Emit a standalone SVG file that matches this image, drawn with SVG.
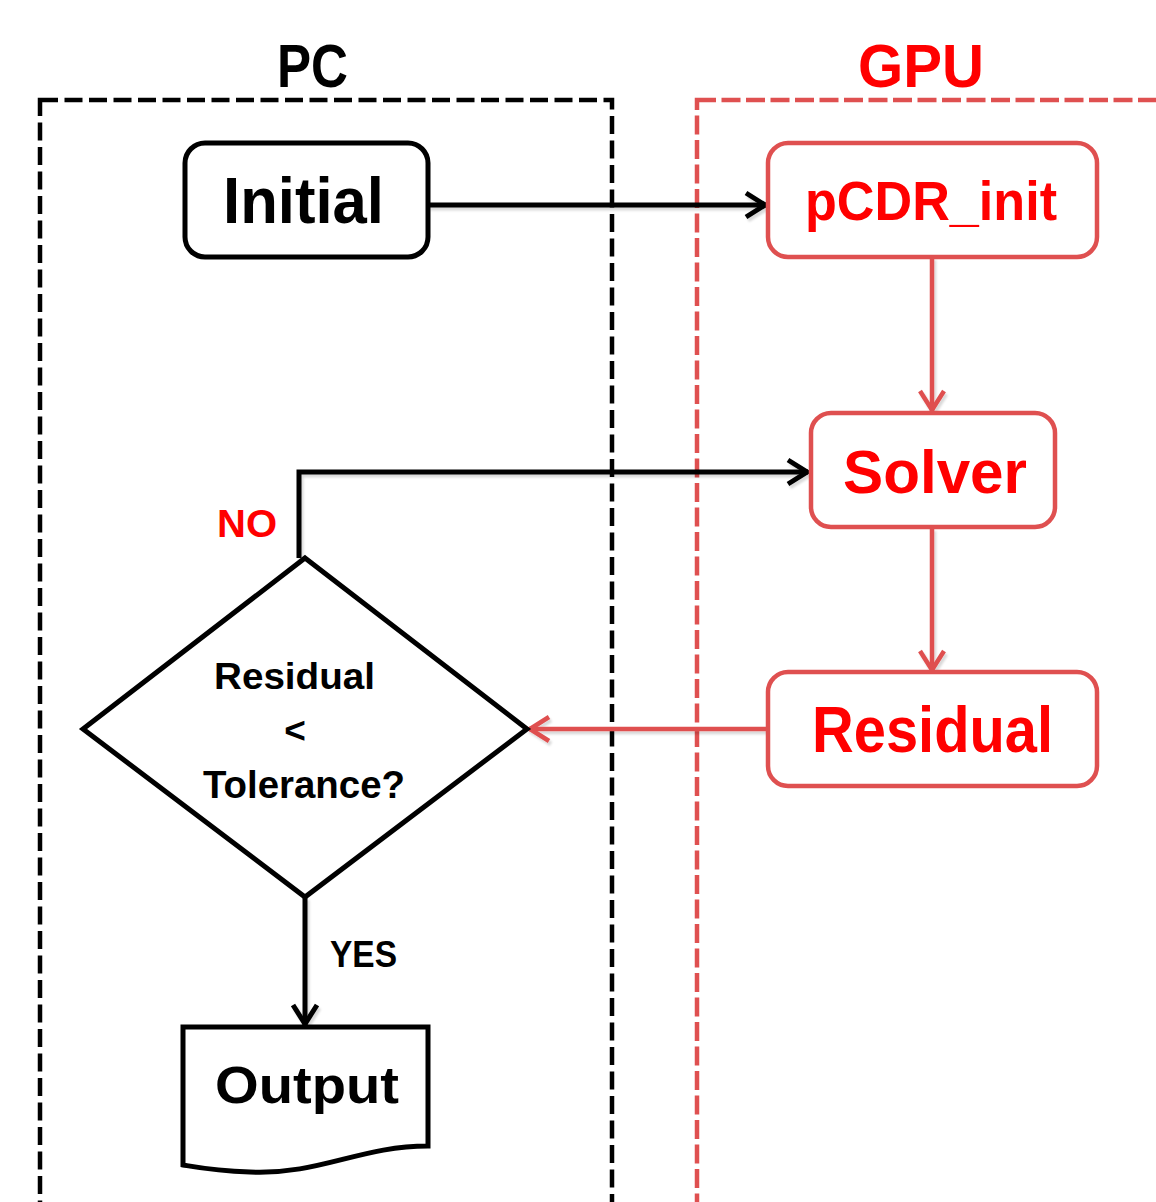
<svg xmlns="http://www.w3.org/2000/svg" width="1156" height="1202" viewBox="0 0 1156 1202">
<style>
  text { font-family: "Liberation Sans", Arial, sans-serif; font-weight: bold; text-anchor: middle; }
  .blk { fill: #000; }
  .red { fill: #ff0000; }
  .lane-pc { fill: none; stroke: #000; stroke-width: 4.5; stroke-dasharray: 18 6.5; }
  .lane-gpu { fill: none; stroke: #df5050; stroke-width: 4.5; stroke-dasharray: 19 5.5; }
  .bbox { fill: #fff; stroke: #000; stroke-width: 5; }
  .rbox { fill: #fff; stroke: #df5050; stroke-width: 4.5; }
  .cb { fill: none; stroke: #000; stroke-width: 5; }
  .cr { fill: none; stroke: #df5050; stroke-width: 4.5; }
</style>
<defs>
  <filter id="sh" x="-5%" y="-5%" width="110%" height="120%">
    <feDropShadow dx="2" dy="3" stdDeviation="1" flood-color="#000" flood-opacity="0.15"/>
  </filter>
  <marker id="ab" viewBox="0 0 26 30" refX="23" refY="15" markerWidth="26" markerHeight="30" markerUnits="userSpaceOnUse" orient="auto">
    <path d="M3,3 L22,15 L3,27" fill="none" stroke="#000" stroke-width="5"/>
  </marker>
  <marker id="ar" viewBox="0 0 26 30" refX="23" refY="15" markerWidth="26" markerHeight="30" markerUnits="userSpaceOnUse" orient="auto">
    <path d="M3,3 L22,15 L3,27" fill="none" stroke="#df5050" stroke-width="4.5"/>
  </marker>
</defs>
<rect width="1156" height="1202" fill="#fff"/>

<g id="lanes">
  <rect class="lane-pc" x="40" y="100" width="572" height="1200"/>
  <rect class="lane-gpu" x="697" y="100" width="520" height="1200"/>
  <text class="blk" x="312.5" y="87" font-size="61" textLength="71" lengthAdjust="spacingAndGlyphs">PC</text>
  <text class="red" x="921" y="87" font-size="61" textLength="126" lengthAdjust="spacingAndGlyphs">GPU</text>
</g>

<g id="connectors">
  <g filter="url(#sh)">
    <path class="cb" d="M428,205 H766" marker-end="url(#ab)"/>
    <path class="cr" d="M932,257 V411" marker-end="url(#ar)"/>
    <path class="cr" d="M932,528 V671" marker-end="url(#ar)"/>
    <path class="cr" d="M767,729 H529" marker-end="url(#ar)"/>
    <path class="cb" d="M299,558 V472 H808" marker-end="url(#ab)"/>
    <path class="cb" d="M305,897 V1025" marker-end="url(#ab)"/>
  </g>
  <text class="red" x="247" y="537" font-size="38" textLength="60" lengthAdjust="spacingAndGlyphs">NO</text>
  <text class="blk" x="363.5" y="967" font-size="37" textLength="67" lengthAdjust="spacingAndGlyphs">YES</text>
</g>

<g id="initial">
  <rect class="bbox" x="185" y="143" width="243" height="114" rx="20"/>
  <text class="blk" x="303.5" y="223" font-size="64" textLength="161" lengthAdjust="spacingAndGlyphs">Initial</text>
</g>

<g id="pcdr_init">
  <rect class="rbox" x="768" y="143" width="329" height="114" rx="20"/>
  <text class="red" x="931" y="220" font-size="56" textLength="252" lengthAdjust="spacingAndGlyphs">pCDR_init</text>
</g>

<g id="solver">
  <rect class="rbox" x="811" y="413" width="244" height="114" rx="20"/>
  <text class="red" x="935" y="493" font-size="62" textLength="184" lengthAdjust="spacingAndGlyphs">Solver</text>
</g>

<g id="residual">
  <rect class="rbox" x="768" y="672" width="329" height="114" rx="20"/>
  <text class="red" x="932.5" y="752" font-size="64" textLength="241" lengthAdjust="spacingAndGlyphs">Residual</text>
</g>

<g id="decision">
  <path class="bbox" d="M305,558 L527,729 L305,897 L83,729 Z" stroke-width="4.5" stroke-linejoin="miter"/>
  <text class="blk" x="294.5" y="689" font-size="37" textLength="161" lengthAdjust="spacingAndGlyphs">Residual</text>
  <text class="blk" x="295" y="743" font-size="37">&lt;</text>
  <text class="blk" x="304" y="798" font-size="38" textLength="202" lengthAdjust="spacingAndGlyphs">Tolerance?</text>
</g>

<g id="output">
  <path class="bbox" d="M183,1027 H428 V1146 C360,1146 320,1175 250,1172 C215,1171 195,1167 183,1165 Z"/>
  <text class="blk" x="307" y="1103" font-size="52" textLength="184" lengthAdjust="spacingAndGlyphs">Output</text>
</g>
</svg>
